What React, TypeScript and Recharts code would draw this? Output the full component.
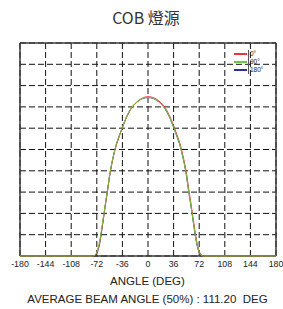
// @ts-nocheck
import React from "react";
import {
  LineChart,
  Line,
  XAxis,
  YAxis,
  CartesianGrid,
  ReferenceLine,
} from "recharts";

const ANGLES = [
  -180, -90, -78, -76, -74, -72, -70, -68, -66, -64, -62, -60, -57, -54, -51, -48, -45, -42, -36, -30, -24, -18, -12, -6,
  0,
  6, 12, 18, 24, 30, 36, 42, 45, 48, 51, 54, 57, 60, 62, 64, 66, 68, 70, 72, 74, 76, 78, 90, 180,
];

const DEG_0 = [
  0, 0, 0, 0.001, 0.005, 0.014, 0.034, 0.063, 0.102, 0.147, 0.192, 0.238, 0.303, 0.374, 0.43, 0.476, 0.516, 0.547, 0.602, 0.653, 0.691, 0.716, 0.733, 0.744,
  0.748,
  0.745, 0.736, 0.72, 0.697, 0.66, 0.612, 0.557, 0.527, 0.488, 0.443, 0.39, 0.32, 0.256, 0.21, 0.165, 0.12, 0.078, 0.046, 0.022, 0.009, 0.003, 0, 0, 0,
];

const DEG_90 = [
  0, 0, 0, 0.002, 0.007, 0.018, 0.04, 0.07, 0.11, 0.155, 0.2, 0.245, 0.31, 0.38, 0.435, 0.48, 0.52, 0.55, 0.605, 0.655, 0.692, 0.716, 0.732, 0.742,
  0.745,
  0.742, 0.732, 0.716, 0.692, 0.655, 0.605, 0.55, 0.52, 0.48, 0.435, 0.38, 0.31, 0.245, 0.2, 0.155, 0.11, 0.07, 0.04, 0.018, 0.007, 0.002, 0, 0, 0,
];

const DEG_180 = [
  0, 0, 0, 0.001, 0.004, 0.012, 0.03, 0.058, 0.098, 0.145, 0.192, 0.24, 0.306, 0.377, 0.433, 0.479, 0.519, 0.549, 0.604, 0.654, 0.691, 0.715, 0.731, 0.741,
  0.744,
  0.741, 0.731, 0.715, 0.691, 0.654, 0.604, 0.549, 0.519, 0.479, 0.434, 0.378, 0.308, 0.243, 0.198, 0.152, 0.107, 0.067, 0.037, 0.016, 0.006, 0.001, 0, 0, 0,
];

const X_TICKS = [-180, -144, -108, -72, -36, 0, 36, 72, 108, 144, 180];
const Y_TICKS = [0, 0.1, 0.2, 0.3, 0.4, 0.5, 0.6, 0.7, 0.8, 0.9, 1];

const SERIES = [
  { key: "d180", label: "180°", color: "#2e3192", values: DEG_180 },
  { key: "d0", label: "0°", color: "#ef3340", values: DEG_0 },
  { key: "d90", label: "90°", color: "#72c53c", values: DEG_90 },
];
const LEGEND_ORDER = ["d0", "d90", "d180"];

const data = ANGLES.map((a, i) => {
  const row = { angle: a };
  SERIES.forEach((s) => (row[s.key] = s.values[i]));
  return row;
});

const FRAME = "#3a3a3a";
const TEXT = "#222";

function LegendBox() {
  return (
    <div style={{ position: "absolute", left: 234, top: 50, width: 46, height: 24 }}>
      {LEGEND_ORDER.map((k, i) => {
        const s = SERIES.find((x) => x.key === k);
        return (
          <div
            key={k}
            style={{ position: "absolute", left: 0, top: i * 8, height: 8, display: "flex", alignItems: "center" }}
          >
            <div style={{ width: 13, height: 2, background: s.color }} />
            <div style={{ width: 1, height: 8, background: "#555", marginLeft: 1 }} />
            <span style={{ fontSize: 6.5, color: TEXT, marginLeft: 1, lineHeight: "8px" }}>{s.label}</span>
          </div>
        );
      })}
    </div>
  );
}

// horizontal grid from the y scale, one line per Y_TICKS value
function hLines({ yAxis, offset }) {
  if (yAxis && typeof yAxis.scale === "function") return Y_TICKS.map((v) => yAxis.scale(v));
  return Y_TICKS.map((v) => offset.top + offset.height * (1 - v));
}

export default function App() {
  return (
    <div
      style={{
        position: "absolute",
        left: 0,
        top: 0,
        width: 283,
        height: 309,
        background: "#fff",
        fontFamily: "'Liberation Sans', Arial, sans-serif",
      }}
    >
      <div
        style={{
          position: "absolute",
          left: 0,
          width: 292,
          top: 5,
          textAlign: "center",
          fontSize: 16,
          color: "#333",
          fontFamily: "'Noto Sans CJK TC', 'Noto Sans', sans-serif",
        }}
      >
        COB 燈源
      </div>
      <LineChart
        width={283}
        height={309}
        data={data}
        margin={{ top: 43, right: 7, left: 20, bottom: 41 }}
      >
        <CartesianGrid
          stroke="#111"
          strokeDasharray="6 3"
          strokeWidth={1}
          horizontalCoordinatesGenerator={hLines}
        />
        <XAxis
          dataKey="angle"
          type="number"
          domain={[-180, 180]}
          ticks={X_TICKS}
          interval={0}
          height={12}
          tickSize={3}
          tickMargin={2}
          tickLine={false}
          axisLine={false}
          tick={{ fontSize: 8.8, fill: TEXT, fontFamily: "'Liberation Sans', Arial, sans-serif" }}
        />
        <YAxis hide type="number" domain={[0, 1]} ticks={Y_TICKS} tickCount={11} width={0} />
        <ReferenceLine x={-180} stroke={FRAME} strokeWidth={1.5} />
        <ReferenceLine x={180} stroke={FRAME} strokeWidth={1.5} />
        <ReferenceLine y={0} stroke={FRAME} strokeWidth={1.5} />
        <ReferenceLine y={1} stroke={FRAME} strokeWidth={1.5} />
        {SERIES.map((s) => (
          <Line
            key={s.key}
            dataKey={s.key}
            name={s.label}
            type="monotone"
            stroke={s.color}
            strokeWidth={1}
            dot={false}
            isAnimationActive={false}
          />
        ))}
      </LineChart>
      <LegendBox />
      <div
        style={{ position: "absolute", left: 0, width: 295, top: 275, textAlign: "center", fontSize: 11.5, color: TEXT }}
      >
        ANGLE (DEG)
      </div>
      <div
        style={{ position: "absolute", left: 0, width: 295, top: 293, textAlign: "center", fontSize: 11.5, color: TEXT }}
      >
        AVERAGE BEAM ANGLE (50%) : 111.20&nbsp;&nbsp;DEG
      </div>
    </div>
  );
}
